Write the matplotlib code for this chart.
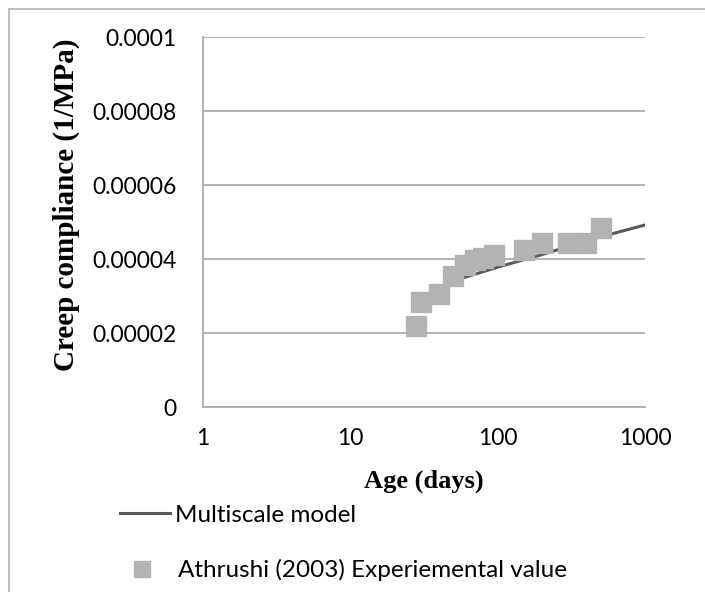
import matplotlib.pyplot as plt
from matplotlib.lines import Line2D

# Multiscale model curve
model_age = [55, 100, 200, 500, 1000]
model_j = [3.46e-5, 3.78e-5, 4.12e-5, 4.60e-5, 4.92e-5]

# Athrushi (2003) experimental points
exp_age = [28, 30, 40, 50, 60, 70, 80, 95, 150, 200, 300, 400, 500]
exp_j = [2.2e-5, 2.84e-5, 3.05e-5, 3.54e-5, 3.84e-5, 3.96e-5, 4.03e-5,
         4.12e-5, 4.23e-5, 4.43e-5, 4.43e-5, 4.43e-5, 4.84e-5]

y_ticks = [0, 0.00002, 0.00004, 0.00006, 0.00008, 0.0001]
y_labels = ["0", "0.00002", "0.00004", "0.00006", "0.00008", "0.0001"]
x_ticks = [1, 10, 100, 1000]
x_labels = ["1", "10", "100", "1000"]

plt.rcParams['font.family'] = ['Lato', 'DejaVu Sans']

fig = plt.figure(figsize=(7.05, 5.92), dpi=100)
ax = fig.add_axes([0.288, 0.3125, 0.627, 0.625])

line, = ax.plot(model_age, model_j, color="#595959", lw=2.2, zorder=2,
                label="Multiscale model")
pts, = ax.plot(exp_age, exp_j, ls="none", marker="s", ms=14,
               color="#b3b3b3", mec="#b3b3b3", zorder=3,
               label="Athrushi (2003) Experiemental value")

ax.set_xscale("log")
ax.set_xlim(1, 1000)
ax.set_ylim(0, 0.0001)
ax.set_xticks(x_ticks)
ax.set_xticklabels(x_labels)
ax.set_yticks(y_ticks)
ax.set_yticklabels(y_labels)
ax.minorticks_off()
ax.tick_params(axis="both", length=0, labelsize=16.5, colors="black")
ax.tick_params(axis="y", pad=19)
ax.tick_params(axis="x", pad=15)
ax.grid(axis="y", color="#a6a6a6", lw=1.2)
for s in ["top", "right"]:
    ax.spines[s].set_visible(False)
for s in ["left", "bottom"]:
    ax.spines[s].set_color("#a6a6a6")
    ax.spines[s].set_linewidth(1.2)

ax.set_xlabel("Age (days)", family="Liberation Serif", weight="bold",
              fontsize=19)
ax.set_ylabel("Creep compliance (1/MPa)", family="Liberation Serif",
              weight="bold", fontsize=21)
ax.xaxis.set_label_coords(0.5, -0.170)
ax.yaxis.set_label_coords(-0.278, 0.546)

# two separate legend entries, as laid out in the original
leg1 = fig.legend(handles=[line], loc="center left",
                  bbox_to_anchor=(0.170, 0.130), frameon=False,
                  fontsize=17.5, handlelength=2.06, handletextpad=0.21,
                  borderpad=0, borderaxespad=0)
leg2 = fig.legend(handles=[pts], loc="center left",
                  bbox_to_anchor=(0.184, 0.037), frameon=False,
                  fontsize=17.5, handlelength=1.0, handletextpad=0.99,
                  borderpad=0, borderaxespad=0, markerscale=0.87)

# chart area border (only top and left visible)
fig.add_artist(Line2D([0.0128, 0.0128], [0, 0.985], color="#bfbfbf", lw=1.5,
                      transform=fig.transFigure))
fig.add_artist(Line2D([0.0128, 1.0], [0.985, 0.985], color="#bfbfbf", lw=1.5,
                      transform=fig.transFigure))

fig.savefig("out.png", dpi=100)
